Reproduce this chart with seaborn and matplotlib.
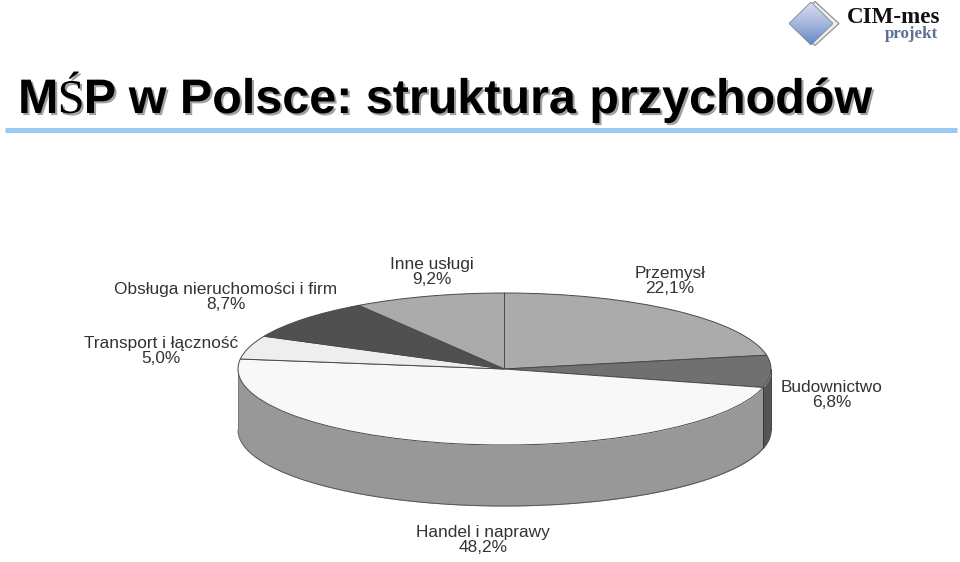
import numpy as np
import matplotlib
matplotlib.use("Agg")
import matplotlib.pyplot as plt
import matplotlib.patheffects as pe
from matplotlib.colors import LinearSegmentedColormap
import seaborn as sns

categories = ["Przemysł", "Budownictwo", "Handel i naprawy", "Transport i łączność",
              "Obsługa nieruchomości i firm", "Inne usługi"]
shares = [22.1, 6.8, 48.2, 5.0, 8.7, 9.2]
share_labels = ["22,1%", "6,8%", "48,2%", "5,0%", "8,7%", "9,2%"]
top_colors = ["#ABABAB", "#707070", "#F8F8F8", "#EEEEEE", "#505050", "#ABABAB"]
wall_colors = ["#8A8A8A", "#555555", "#989898", "#C8C8C8", "#404040", "#8A8A8A"]
label_px = [(670, 281), (832, 395), (483, 540), (161, 351), (226, 297), (432, 272)]

W, H = 960, 562
CX, CY, RX, RY, DEPTH = 504.5, 369, 266.5, 76, 61

sns.set_theme(style="white")
plt.rcParams['font.family'] = ['Liberation Sans', 'DejaVu Sans']

fig = plt.figure(figsize=(W / 100, H / 100), dpi=100, facecolor="white")
ax = fig.add_axes([0, 0, 1, 1])

# side walls, from the same shares as the top face
depth = DEPTH / RY
edges = 90 - 3.6 * np.concatenate([[0], np.cumsum(shares)])
for i, color in enumerate(wall_colors):
    t = np.radians(np.linspace(edges[i], edges[i + 1], 200))
    vis = np.sin(t) <= 0.0
    if vis.any():
        x = np.cos(t[vis]); y = np.sin(t[vis])
        ax.fill_between(x, y, y - depth, color=color, lw=0, zorder=1)
        ax.plot(x, y - depth, color="#555555", lw=0.7, zorder=1.5)

t0 = np.radians(edges[2])
ax.plot([np.cos(t0)] * 2, [np.sin(t0), np.sin(t0) - depth], color="#333333", lw=0.7, zorder=1.5)
ax.plot([-1, -1], [0, -depth], color="#777777", lw=0.7, zorder=1.5)
ax.plot([1, 1], [0, -depth], color="#444444", lw=0.7, zorder=1.5)

ax.pie(shares, startangle=90, counterclock=False, colors=top_colors, radius=1,
       wedgeprops=dict(edgecolor="#4A4A4A", linewidth=0.7, zorder=2))
ax.set_aspect("auto")
ax.set_xlim(-CX / RX, (W - CX) / RX)
ax.set_ylim((CY - H) / RY, CY / RY)
ax.axis("off")

def fx(px): return px / W
def fy(py): return 1 - py / H

for name, val, (px, py) in zip(categories, share_labels, label_px):
    fig.text(fx(px), fy(py), f"{name}\n{val}", ha="center", va="center", fontsize=12.45,
             color="#333333", linespacing=0.98)

# title, with the serif fallback glyph of the original
title_parts = [("M", "Liberation Sans", "bold"), ("Ś", "Liberation Serif", "normal"),
               ("P w Polsce: struktura przychodów", "Liberation Sans", "bold")]
renderer = fig.canvas.get_renderer()
x = 18
for s, fam, wt in title_parts:
    tt = fig.text(fx(x), fy(113), s, fontsize=34.9, family=fam, weight=wt, color="black",
                  va="baseline", ha="left")
    tt.set_path_effects([pe.withSimplePatchShadow(offset=(1.5, -1.5), shadow_rgbFace="#888888", alpha=0.8)])
    x = tt.get_window_extent(renderer).x1 - 0.8

# header rule
fig.add_artist(plt.Line2D([fx(5), fx(957)], [fy(130), fy(130)], color="#9CC9F2", lw=3.6,
                          solid_capstyle="butt"))

# logo
def diamond(cx, cy, hw, hh):
    return np.array([[fx(cx), fy(cy - hh)], [fx(cx + hw), fy(cy)], [fx(cx), fy(cy + hh)], [fx(cx - hw), fy(cy)]])

back = plt.Polygon(diamond(815, 23.5, 24, 22), closed=True, transform=fig.transFigure,
                   fc="#EEEEEE", ec="#888888", lw=0.8, zorder=3)
fig.add_artist(back)
lax = fig.add_axes([fx(789), fy(45), 44 / W, 43 / H], zorder=4)
lax.axis("off")
grad = np.linspace(0, 1, 64)[:, None]
cmap = LinearSegmentedColormap.from_list("d", ["#DCDCF0", "#A5B8DE", "#6288C8"])
im = lax.imshow(grad, cmap=cmap, aspect="auto", extent=[0, 1, 0, 1], origin="upper")
clip = plt.Polygon([[0.5, 1], [1, 0.5], [0.5, 0], [0, 0.5]], closed=True, transform=lax.transData,
                   fc="none", ec="#778899", lw=0.6)
lax.add_patch(clip)
im.set_clip_path(clip)
lax.set_xlim(0, 1); lax.set_ylim(0, 1)

fig.text(fx(847), fy(23), "CIM-mes", fontsize=16.6, family="Liberation Serif", weight="bold",
         color="#111111", va="baseline", ha="left")
fig.text(fx(885), fy(38.5), "projekt", fontsize=12.2, family="Liberation Serif", weight="bold",
         color="#5A6F96", va="baseline", ha="left")

fig.savefig("out.png", dpi=100, facecolor="white")
